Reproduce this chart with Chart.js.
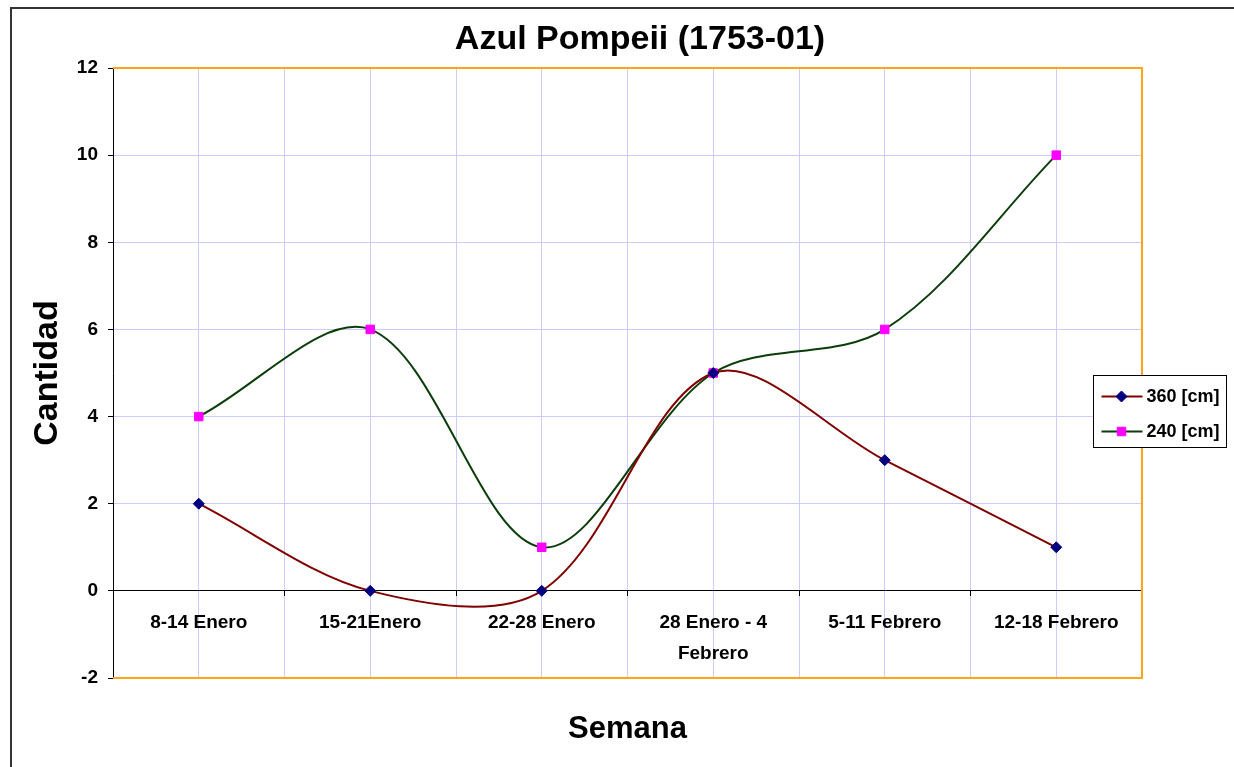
<!DOCTYPE html>
<html lang="es">
<head>
<meta charset="utf-8">
<title>Azul Pompeii (1753-01)</title>
<script src="https://cdn.jsdelivr.net/npm/chart.js"></script>
<style>
  html, body { margin: 0; padding: 0; background: #fff; overflow: hidden; }
  #wrap { position: relative; width: 1280px; height: 767px; }
  #marco { position: absolute; left: 10px; top: 7px; width: 1256px; height: 800px; border: 2px solid #333; pointer-events: none; }
</style>
</head>
<body>
<div id="wrap">
  <canvas id="grafico"></canvas>
  <div id="marco"></div>
</div>
<script>
// Datos del gráfico
const semanas = ['8-14 Enero', '15-21Enero', '22-28 Enero', ['28 Enero - 4', 'Febrero'], '5-11 Febrero', '12-18 Febrero'];
const serie360 = [2, 0, 0, 5, 3, 1];
const serie240 = [4, 6, 1, 5, 6, 10];
const nombresSeries = ['360 [cm]', '240 [cm]'];
const ejeY = { min: -2, max: 12, paso: 2 };

const fuente = 'Arial, "Liberation Sans", sans-serif';
const colorRejilla = '#ccccff';

// Borde naranja del área de trazado (arriba, derecha, abajo)
const marcoNaranja = {
    id: 'marcoNaranja',
    beforeDatasetsDraw(chart) {
        const { ctx, chartArea: a } = chart;
        ctx.save();
        ctx.strokeStyle = '#ffa31a';
        ctx.lineWidth = 2;
        ctx.beginPath();
        ctx.moveTo(a.left, a.top);
        ctx.lineTo(a.right, a.top);
        ctx.lineTo(a.right, a.bottom);
        ctx.lineTo(a.left, a.bottom);
        ctx.stroke();
        ctx.restore();
    }
};

// Leyenda con recuadro, encima del borde derecho
const leyenda = {
    id: 'leyenda',
    afterDraw(chart) {
        const ctx = chart.ctx;
        const a = chart.chartArea;
        const x = Math.round(a.right - 49) + 0.5;
        const y = Math.round(a.top + 307) + 0.5;
        ctx.save();
        ctx.fillStyle = '#fff';
        ctx.fillRect(x, y, 133, 72);
        ctx.strokeStyle = '#000';
        ctx.lineWidth = 1;
        ctx.strokeRect(x, y, 133, 72);
        chart.data.datasets.forEach((ds, i) => {
            const cy = y + 21 + i * 35;
            ctx.strokeStyle = ds.borderColor;
            ctx.lineWidth = 2;
            ctx.beginPath();
            ctx.moveTo(x + 8, cy);
            ctx.lineTo(x + 49, cy);
            ctx.stroke();
            ctx.fillStyle = ds.pointBackgroundColor;
            ctx.strokeStyle = ds.pointBorderColor;
            ctx.lineWidth = ds.pointBorderWidth;
            if (Chart.helpers && Chart.helpers.drawPoint) {
                Chart.helpers.drawPoint(ctx, { pointStyle: ds.pointStyle, radius: ds.pointRadius, borderWidth: ds.pointBorderWidth, rotation: 0 }, x + 28, cy);
            }
            ctx.fillStyle = '#000';
            ctx.font = 'bold 18px ' + fuente;
            ctx.textBaseline = 'middle';
            ctx.textAlign = 'left';
            ctx.fillText(ds.label, x + 53, cy + 1);
        });
        ctx.restore();
    }
};

new Chart(document.getElementById('grafico'), {
    type: 'line',
    data: {
        labels: semanas,
        datasets: [{
            label: nombresSeries[0],
            data: serie360,
            borderColor: '#800000',
            borderWidth: 2,
            pointStyle: 'rectRot',
            pointRadius: 5.5,
            pointBackgroundColor: '#000080',
            pointBorderColor: '#000080',
            pointBorderWidth: 1,
            tension: 0.33,
            fill: false
        }, {
            label: nombresSeries[1],
            data: serie240,
            borderColor: '#0b3d0b',
            borderWidth: 2,
            pointStyle: 'rect',
            pointRadius: 6,
            pointBackgroundColor: '#ff00ff',
            pointBorderColor: '#ff00ff',
            pointBorderWidth: 1,
            tension: 0.33,
            fill: false
        }]
    },
    options: {
        responsive: true,
        maintainAspectRatio: false,
        animation: false,
        layout: { padding: 0 },
        plugins: {
            legend: { display: false },
            tooltip: { enabled: false },
            title: {
                display: true,
                text: 'Azul Pompeii (1753-01)',
                color: '#000',
                font: { family: fuente, size: 34, weight: 'bold', lineHeight: 1.2 },
                padding: { top: 19.6, bottom: 7.6 }
            },
            subtitle: {
                display: true,
                position: 'bottom',
                fullSize: false,
                text: 'Semana',
                color: '#000',
                font: { family: fuente, size: 31, weight: 'bold', lineHeight: 1.2 },
                padding: { top: 32.4, bottom: 19.4 }
            }
        },
        scales: {
            x: {
                type: 'category',
                position: { y: 0 },
                offset: true,
                grid: { offset: true, color: colorRejilla, tickColor: '#000', tickLength: 5, lineWidth: 1 },
                border: { color: '#000', width: 1 },
                ticks: {
                    color: '#000',
                    font: { family: fuente, size: 19, weight: 'bold', lineHeight: 1.6 },
                    padding: 12,
                    maxRotation: 0,
                    autoSkip: false
                }
            },
            xc: {
                type: 'category',
                position: { y: 0 },
                offset: true,
                grid: { offset: false, color: colorRejilla, drawTicks: false, lineWidth: 1 },
                border: { display: false },
                ticks: { display: false }
            },
            y: {
                min: ejeY.min,
                max: ejeY.max,
                ticks: {
                    stepSize: ejeY.paso,
                    color: '#000',
                    padding: 10,
                    font: { family: fuente, size: 19, weight: 'bold' }
                },
                grid: { color: colorRejilla, tickColor: '#000', tickLength: 5, lineWidth: 1 },
                border: { color: '#000', width: 1 },
                title: {
                    display: true,
                    text: 'Cantidad',
                    color: '#000',
                    font: { family: fuente, size: 34, weight: 'bold', lineHeight: 1.2 },
                    padding: { top: 27, bottom: 0 }
                },
                afterFit(scale) {
                    scale.width = 113;
                }
            },
            // eje vacío a la derecha: solo reserva el hueco del margen derecho
            yd: {
                position: 'right',
                grid: { drawOnChartArea: false, drawTicks: false },
                border: { display: false },
                ticks: { display: false },
                afterFit(scale) {
                    scale.width = 138;
                }
            }
        }
    },
    plugins: [marcoNaranja, leyenda]
});
</script>
</body>
</html>
